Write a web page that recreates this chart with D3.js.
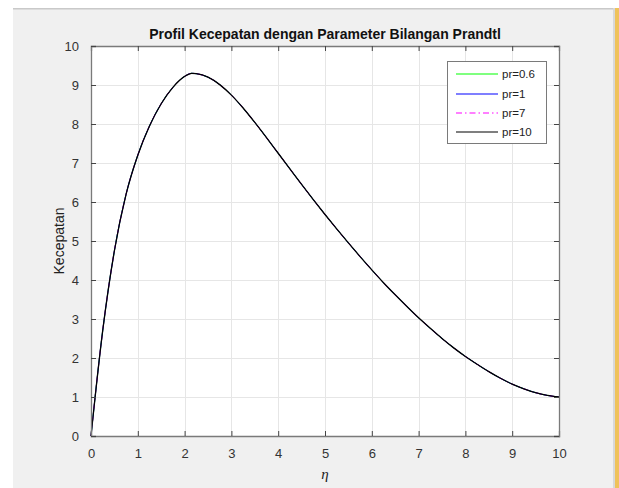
<!DOCTYPE html>
<html><head><meta charset="utf-8">
<script src="https://cdn.jsdelivr.net/npm/d3@7"></script>
<style>html,body{margin:0;padding:0;background:#fff;}svg{display:block;}</style>
</head><body>
<script>
const eta = [0,0.25,0.5,0.75,1,1.25,1.5,1.75,2,2.15,2.25,2.5,2.75,3,3.25,3.5,3.75,4,4.25,4.5,4.75,5,5.25,5.5,5.75,6,6.25,6.5,6.75,7,7.25,7.5,7.75,8,8.25,8.5,8.75,9,9.25,9.5,9.75,10];
const velocity = [0,2.7,4.75,6.2,7.2,7.95,8.52,8.94,9.22,9.3,9.29,9.2,9.01,8.74,8.41,8.04,7.65,7.25,6.85,6.45,6.06,5.68,5.31,4.95,4.6,4.26,3.93,3.62,3.32,3.03,2.76,2.5,2.26,2.04,1.84,1.65,1.48,1.33,1.21,1.11,1.04,1.0];
const seriesNames = ["pr=0.6","pr=1","pr=7","pr=10"];
const seriesColors = ["#00ff00","#0000ff","#ff00ff","#000000"];
const seriesDash = [null,null,"6,3,1.5,3",null];
const xTicks = [0,1,2,3,4,5,6,7,8,9,10];
const yTicks = [0,1,2,3,4,5,6,7,8,9,10];
const title = "Profil Kecepatan dengan Parameter Bilangan Prandtl";
const yLabel = "Kecepatan";
const xLabel = "η";

const W = 619, H = 488;
const svg = d3.select("body").append("svg").attr("width", W).attr("height", H);
svg.append("rect").attr("x",13).attr("y",8).attr("width",W-13).attr("height",H-8).attr("fill","#f0f0f0");
svg.append("rect").attr("x",13).attr("y",8).attr("width",W-13).attr("height",1).attr("fill","#c9c9c9");
svg.append("rect").attr("x",13).attr("y",9).attr("width",W-13).attr("height",1).attr("fill","#dcdcdc");
svg.append("rect").attr("x",613).attr("y",8).attr("width",2).attr("height",H-8).attr("fill","#d8d8d8");
svg.append("rect").attr("x",615).attr("y",8).attr("width",4).attr("height",H-8).attr("fill","#efc25a");

const L = 91, R = 559, T = 46, B = 436;
const x = d3.scaleLinear().domain([0,10]).range([L,R]);
const y = d3.scaleLinear().domain([0,10]).range([B,T]);

svg.append("rect").attr("x",L).attr("y",T).attr("width",R-L).attr("height",B-T).attr("fill","#fff");

const g = svg.append("g");
g.selectAll(".gx").data(xTicks.slice(1,-1)).join("line")
  .attr("x1",d=>Math.round(x(d))+0.5).attr("x2",d=>Math.round(x(d))+0.5).attr("y1",T).attr("y2",B)
  .attr("stroke","#e6e6e6").attr("stroke-width",1);
g.selectAll(".gy").data(yTicks.slice(1,-1)).join("line")
  .attr("y1",d=>Math.round(y(d))+0.5).attr("y2",d=>Math.round(y(d))+0.5).attr("x1",L).attr("x2",R)
  .attr("stroke","#e6e6e6").attr("stroke-width",1);

const line = d3.line().x((d,i)=>x(eta[i])).y(d=>y(d)).curve(d3.curveMonotoneX);
seriesNames.forEach((n,i)=>{
  svg.append("path").datum(velocity).attr("d",line).attr("fill","none")
    .attr("stroke",seriesColors[i]).attr("stroke-width",i===3?1.3:0.9)
    .attr("stroke-dasharray",seriesDash[i]);
});

const axCol = "#7a7a7a";
const axB = svg.append("g").attr("transform",`translate(0,${B})`)
  .call(d3.axisBottom(x).tickValues(xTicks).tickSize(-5).tickPadding(13).tickFormat(d3.format("d")));
const axT = svg.append("g").attr("transform",`translate(0,${T})`)
  .call(d3.axisTop(x).tickValues(xTicks).tickSize(-5).tickFormat(""));
const axL = svg.append("g").attr("transform",`translate(${L},0)`)
  .call(d3.axisLeft(y).tickValues(yTicks).tickSize(-5).tickPadding(12).tickFormat(d3.format("d")));
const axR = svg.append("g").attr("transform",`translate(${R},0)`)
  .call(d3.axisRight(y).tickValues(yTicks).tickSize(-5).tickFormat(""));
[axB,axT,axL,axR].forEach(a=>{
  a.select(".domain").attr("stroke",axCol).attr("stroke-width",1.3);
  a.selectAll(".tick line").attr("stroke","#444").attr("stroke-width",1);
  a.selectAll("text").attr("fill","#333").style("font-family","'Liberation Sans',Arial,sans-serif").style("font-size","13px");
});

svg.append("text").attr("x",(L+R)/2).attr("y",39).attr("text-anchor","middle")
  .style("font-family","'Liberation Sans',Arial,sans-serif").style("font-size","14px").style("font-weight","bold")
  .attr("fill","#111").text(title);
svg.append("text").attr("transform",`translate(64,${(T+B)/2}) rotate(-90)`).attr("text-anchor","middle")
  .style("font-family","'Liberation Sans',Arial,sans-serif").style("font-size","14px")
  .attr("fill","#222").text(yLabel);
svg.append("text").attr("x",(L+R)/2).attr("y",479).attr("text-anchor","middle")
  .style("font-family","'Liberation Serif','Times New Roman',serif").style("font-size","15px").style("font-style","italic")
  .attr("fill","#222").text(xLabel);

const lg = svg.append("g");
lg.append("rect").attr("x",447.5).attr("y",61.5).attr("width",99).attr("height",82)
  .attr("fill","#fff").attr("stroke","#7a7a7a").attr("stroke-width",1);
const ly = [74,94,113,132];
seriesNames.forEach((n,i)=>{
  lg.append("line").attr("x1",456).attr("x2",498).attr("y1",ly[i]).attr("y2",ly[i])
    .attr("stroke",seriesColors[i]).attr("stroke-width",1.1).attr("stroke-dasharray",seriesDash[i]);
  lg.append("text").attr("x",502).attr("y",ly[i]+4)
    .style("font-family","'Liberation Sans',Arial,sans-serif").style("font-size","11.5px")
    .attr("fill","#222").text(n);
});
</script>
</body></html>
